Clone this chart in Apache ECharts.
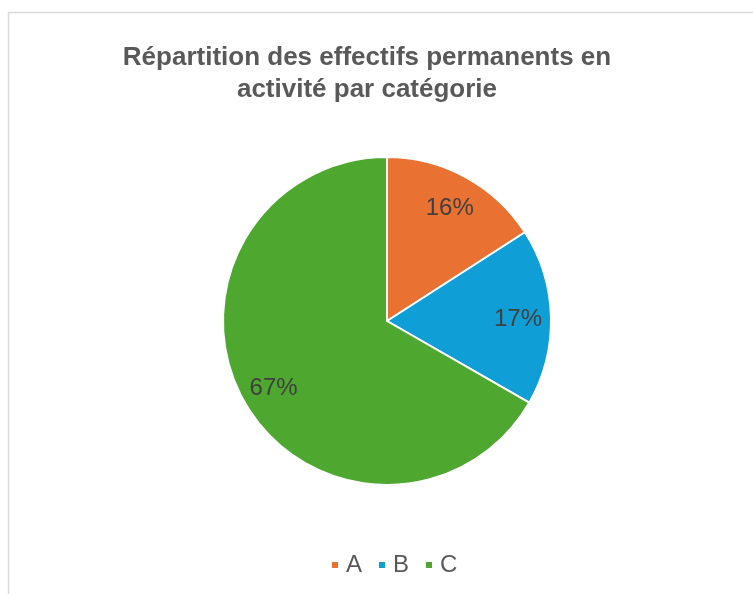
<!DOCTYPE html>
<html>
<head>
<meta charset="utf-8">
<script src="https://cdn.jsdelivr.net/npm/echarts@6/dist/echarts.min.js"></script>
<style>
  html, body { margin: 0; padding: 0; background: #fff; }
  #chart { width: 753px; height: 594px; }
</style>
</head>
<body>
<div id="chart"></div>
<script>
// categories and their share of staff (%)
const categories = ["A", "B", "C"];
const shares = [15.9, 17.4, 66.7];
const colors = ["#E97132", "#0F9ED5", "#4EA72E"];

const titleText = "Répartition des effectifs permanents en\nactivité par catégorie";

const myChart = echarts.init(document.getElementById("chart"));

const pieData = categories.map((name, i) => ({
  name: name,
  value: shares[i],
  itemStyle: { color: colors[i] },
}));

myChart.setOption({
  animation: false,
  textStyle: { fontFamily: "Liberation Sans, Arial, sans-serif" },
  graphic: [
    {
      type: "rect",
      shape: { x: 8.5, y: 12.5, width: 800, height: 700 },
      style: { fill: "none", stroke: "#d9d9d9", lineWidth: 1.5 },
      silent: true,
    },
  ],
  title: {
    text: titleText,
    left: 367,
    top: 42,
    padding: 0,
    textAlign: "center",
    textStyle: {
      fontSize: 26,
      fontWeight: "bold",
      color: "#595959",
      lineHeight: 32,
    },
  },
  legend: {
    data: categories,
    left: 330,
    top: 553,
    padding: 0,
    icon: "rect",
    itemWidth: 8,
    itemHeight: 8,
    itemGap: 15,
    textStyle: {
      fontSize: 24,
      color: "#595959",
      padding: [0, 0, 0, 2],
    },
  },
  series: [
    {
      type: "pie",
      center: [387, 321],
      radius: 164,
      startAngle: 90,
      clockwise: true,
      silent: true,
      emphasis: { disabled: true },
      label: { show: false },
      labelLine: { show: false },
      itemStyle: { borderColor: "#fff", borderWidth: 2 },
      data: pieData,
    },
    {
      // transparent ring only used to place the labels at ~0.78 radius
      type: "pie",
      center: [387, 323],
      radius: [92, 164],
      startAngle: 90,
      clockwise: true,
      silent: true,
      emphasis: { disabled: true },
      itemStyle: { color: "rgba(0,0,0,0)" },
      label: {
        show: true,
        position: "inside",
        fontSize: 24,
        color: "#404040",
        formatter: (p) => Math.round(p.percent) + "%",
      },
      labelLine: { show: false },
      data: categories.map((name, i) => ({ name: name, value: shares[i] })),
    },
  ],
});
</script>
</body>
</html>
